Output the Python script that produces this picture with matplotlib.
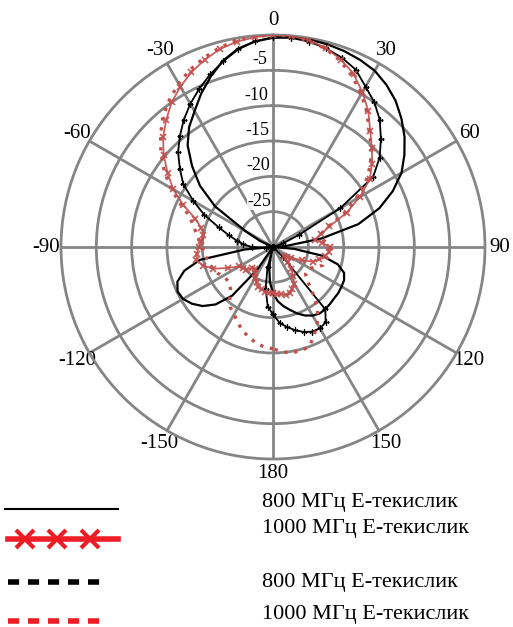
import numpy as np
import matplotlib
matplotlib.use("Agg")
import matplotlib.pyplot as plt
from matplotlib.lines import Line2D

plt.rcParams['font.family'] = ['Liberation Serif', 'DejaVu Serif']

# angles in degrees, -180 .. 180 every 5 degrees
angles = list(range(-180, 185, 5))

# 800 MHz, solid black
s800 = [-23.5, -25, -27, -29, -30, -30, -30, -26, -21, -18.5, -17, -16, -15.3, -15.1,
        -15.6, -17, -19.5, -26, -30, -30, -30, -30, -30, -28, -25.5, -20, -16.5, -13.8,
        -11.2, -9.3, -7.8, -6, -4.3, -2.7, -1.5, -0.8, -0.4, -0.2, -0.2, -0.3, -0.5, -0.8,
        -1.2, -2, -3, -4.3, -5.7, -7.3, -9, -11.3, -14, -17.5, -23, -28, -30, -27, -23,
        -20.5, -19.3, -18.9, -18.8, -18.7, -18.7, -18.6, -18.5, -18.5, -18.8, -19.3, -20,
        -20.8, -21.5, -22.3, -23.5]

# 1000 MHz, red with crosses
x1000 = [-23.5, -23.5, -23.5, -23.8, -24, -24.5, -25, -25.5, -26, -25.8, -25, -24.8, -24.5,
         -23, -21, -19.8, -19, -19.2, -19.5, -19.8, -20, -19.5, -18.3, -16, -13.7, -11.8,
         -9.8, -8, -6.5, -5, -3.8, -2.7, -1.8, -1, -0.5, -0.2, 0, 0, -0.3, -0.9, -1.8, -3,
         -4.7, -6.5, -8.6, -10.2, -11.7, -13.3, -15.8, -18.5, -21.5, -23, -24, -23, -22, -22,
         -22.5, -23.2, -24, -25.5, -27, -27.5, -28, -27, -26, -25, -24, -23.5, -23, -23,
         -23.2, -23.3, -23.5]

# 800 MHz, black dashed
d800 = [-20.5, -21.5, -24, -27, -30, -30, -30, -30, -30, -30, -30, -30, -30, -30, -30, -30,
        -30, -29, -27, -25.8, -24.8, -23.5, -21.8, -19.3, -17, -14.5, -12.8, -11, -9.5, -8,
        -6.6, -5.3, -4, -2.8, -1.6, -0.8, -0.3, -0.3, -0.5, -0.9, -1.5, -2.3, -3.8, -5, -6.5,
        -8.4, -10.3, -12.7, -19, -26, -28.5, -30, -30, -30, -30, -30, -30, -30, -30, -30,
        -30, -30, -30, -28, -18.5, -17, -16.7, -16.8, -17.2, -17.8, -18.5, -19.2, -20.5]

# 1000 MHz, red dashed
r1000 = [-15.6, -15.8, -16.2, -16.8, -17.4, -18.2, -19, -19.5, -20.5, -21.5, -22, -22, -21.8,
         -21.3, -21, -20.7, -20.5, -20.2, -20, -19.5, -19, -18.3, -17.5, -15.5, -13.3, -11.2,
         -9.3, -7.5, -5.8, -4.5, -3.3, -2.3, -1.5, -0.8, -0.3, -0.1, 0, 0, -0.4, -1, -2, -3.4,
         -5, -6.8, -8.8, -10.3, -12, -14, -16.5, -19, -21.8, -23, -23, -22.5, -22, -22, -22,
         -22.5, -22.5, -23.2, -24, -24, -24, -23, -21, -19, -17.5, -16.2, -15, -14.8, -14.8,
         -15.1, -15.6]

theta_ticks = [0, 30, 60, 90, 120, 150, 180, 210, 240, 270, 300, 330]
theta_labels = ['0', '30', '60', '90', '120', '150', '180', '-150', '-120', '-90', '-60', '-30']
r_ticks = [-25, -20, -15, -10, -5]
r_labels = ['-25', '-20', '-15', '-10', '-5']
legend_labels = ['800 МГц Е-текислик', '1000 МГц Е-текислик',
                 '800 МГц Е-текислик', '1000 МГц Е-текислик']

W, H = 513, 627
fig = plt.figure(figsize=(W / 100, H / 100), dpi=100)
ax = fig.add_axes([61 / W, 1 - 459 / H, 424 / W, 424 / H], projection='polar')
ax.set_theta_zero_location('N')
ax.set_theta_direction(-1)
ax.set_ylim(-30, 0)

th = np.deg2rad(angles)
grid_col = '#858585'
plot_red = '#c0504d'

ax.plot(th, s800, color='black', lw=1.6, zorder=3)
ax.plot(th, d800, color='black', lw=1.3, marker='+', ms=5, mew=1.0, zorder=3)
ax.plot(th, r1000, color=plot_red, lw=2.4, ls=(0, (1, 2)), zorder=4)
ax.plot(th, x1000, color=plot_red, lw=1.3, marker='x', ms=5, mew=1.3, alpha=0.9, zorder=5)

ax.set_thetagrids(theta_ticks, theta_labels, fontsize=15)
ax.tick_params(axis='x', pad=0)
ax.set_rgrids(r_ticks, [''] * len(r_ticks))
ax.grid(True, color=grid_col, lw=2)
ax.spines['polar'].set_color(grid_col)
ax.spines['polar'].set_linewidth(2)

for rv, lab in zip(r_ticks, r_labels):
    ax.text(np.deg2rad(-2), rv + 0.3, lab, ha='right', va='bottom', fontsize=13,
            zorder=6, bbox=dict(facecolor='white', edgecolor='none', pad=0.3, alpha=0.85))

# legend drawn by hand below the chart
def fx(x):
    return x / W

def fy(y):
    return 1 - y / H

fig.add_artist(Line2D([fx(5), fx(118)], [fy(509), fy(509)], color='black', lw=1.5))
fig.add_artist(Line2D([fx(8), fx(118)], [fy(539), fy(539)], color='#ee1c25', lw=4))
fig.add_artist(Line2D([fx(25), fx(57), fx(90)], [fy(539)] * 3, color='#ee1c25', lw=0,
                      marker='x', ms=13, mew=3))
fig.add_artist(Line2D([fx(8), fx(105)], [fy(582), fy(582)], color='black', lw=4,
                      ls=(0, (2, 1.6))))
fig.add_artist(Line2D([fx(8), fx(108)], [fy(621), fy(621)], color='#ee1c25', lw=4,
                      ls=(0, (2, 1.6))))

text_y = [502, 528, 582, 615]
for ty, lab in zip(text_y, legend_labels):
    fig.text(fx(262), fy(ty), lab, fontsize=16, va='center', ha='left')

fig.savefig('out.png', dpi=100)
